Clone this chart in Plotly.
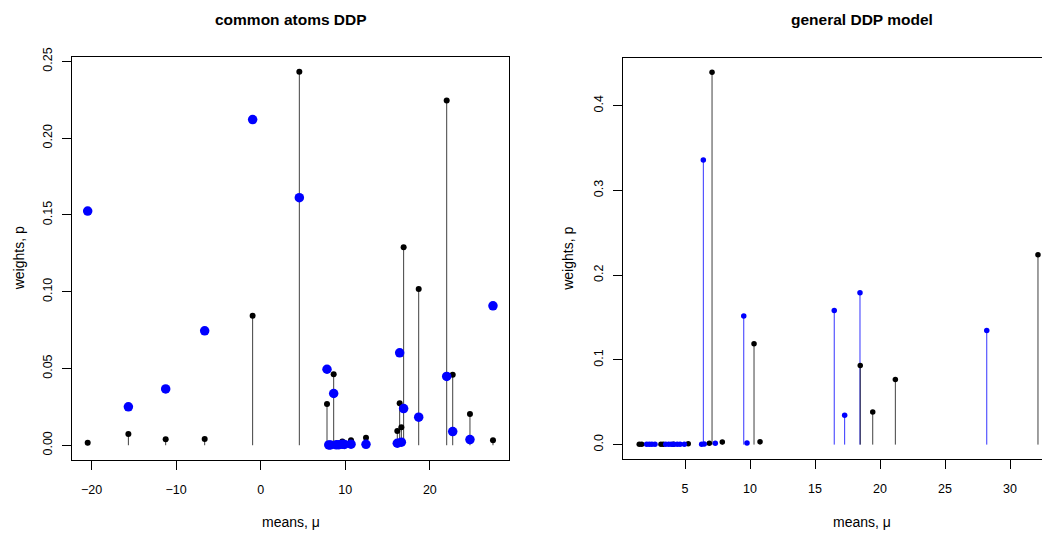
import plotly.graph_objects as go

# ---------------- data ----------------
# Left panel: common atoms DDP (shared atoms, two groups of weights)
left_atoms = [-20.45, -15.64, -11.23, -6.62, -0.95, 4.57, 7.84, 8.05, 8.25, 8.63, 8.95,
              9.25, 9.65, 9.90, 10.68, 12.45, 16.15, 16.43, 16.63, 16.90, 18.68, 21.99,
              22.70, 24.74, 27.46]
left_w_black = [0.0017, 0.0074, 0.0039, 0.0041, 0.0843, 0.2432, 0.0269, 0.0002, 0.0003, 0.0463, 0.0005,
                0.0008, 0.0025, 0.0003, 0.0033, 0.0048, 0.0093, 0.0274, 0.0117, 0.1289, 0.1017, 0.2245,
                0.0459, 0.0204, 0.0033]
left_w_blue = [0.1525, 0.0250, 0.0367, 0.0745, 0.2121, 0.1612, 0.0495, 0.0002, 0.0002, 0.0337, 0.0003,
               0.0004, 0.0006, 0.0005, 0.0007, 0.0006, 0.0013, 0.0602, 0.0020, 0.0239, 0.0183, 0.0448,
               0.0089, 0.0037, 0.0908]

# Right panel: general DDP model (separate atoms per group)
right_atoms_black = [1.48, 1.67, 3.15, 3.33, 4.10, 5.25, 6.87, 7.08, 7.87, 10.31, 10.77,
                     18.48, 19.44, 21.18, 32.15]
right_w_black = [0.0005, 0.0005, 0.0005, 0.0005, 0.0005, 0.0010, 0.0015, 0.4392, 0.0030, 0.1189, 0.0035,
                 0.0933, 0.0386, 0.0767, 0.2240]
right_atoms_blue = [2.05, 2.25, 2.45, 2.69, 3.52, 3.75, 3.95, 4.15, 4.40, 4.62, 4.95,
                    6.28, 6.41, 6.48, 7.33, 9.52, 9.77, 16.48, 17.28, 18.46, 28.21]
right_w_blue = [0.0003, 0.0003, 0.0003, 0.0003, 0.0003, 0.0003, 0.0003, 0.0003, 0.0003, 0.0003, 0.0005,
                0.0005, 0.3358, 0.0008, 0.0015, 0.1516, 0.0020, 0.1582, 0.0347, 0.1791, 0.1346]

left_xticks = [-20, -10, 0, 10, 20]
left_yticks = [0.0, 0.05, 0.10, 0.15, 0.20, 0.25]
left_ytext = ["0.00", "0.05", "0.10", "0.15", "0.20", "0.25"]
right_xticks = [5, 10, 15, 20, 25, 30]
right_yticks = [0.0, 0.1, 0.2, 0.3, 0.4]
right_ytext = ["0.0", "0.1", "0.2", "0.3", "0.4"]

titles = ["common atoms DDP", "general DDP model"]
xlabel = "means, \u03bc"
ylabel = "weights, p"

BLUE = "#0000ff"
FONT = "Liberation Sans, Arial, sans-serif"
W, H = 1042, 533
HEFF = 522.6  # effective rendered paper height (measured)


def py(pix):
    """pixel row from top -> paper y"""
    return (H - pix) / HEFF


def stems(xs, ys):
    sx, sy = [], []
    for x, y in zip(xs, ys):
        sx += [x, x, None]
        sy += [0, y, None]
    return sx, sy


fig = go.Figure()

# left panel
sx, sy = stems(left_atoms, left_w_black)
fig.add_trace(go.Scatter(x=sx, y=sy, mode="lines", line=dict(color="rgba(0,0,0,0.75)", width=1),
                         xaxis="x", yaxis="y", hoverinfo="skip"))
fig.add_trace(go.Scatter(x=left_atoms, y=left_w_black, mode="markers",
                         marker=dict(color="black", size=6), xaxis="x", yaxis="y"))
fig.add_trace(go.Scatter(x=left_atoms, y=left_w_blue, mode="markers",
                         marker=dict(color=BLUE, size=9.5), xaxis="x", yaxis="y"))

# right panel
sx, sy = stems(right_atoms_blue, right_w_blue)
fig.add_trace(go.Scatter(x=sx, y=sy, mode="lines", line=dict(color="rgba(0,0,255,0.8)", width=1),
                         xaxis="x2", yaxis="y2", hoverinfo="skip"))
sx, sy = stems(right_atoms_black, right_w_black)
fig.add_trace(go.Scatter(x=sx, y=sy, mode="lines", line=dict(color="rgba(0,0,0,0.75)", width=1),
                         xaxis="x2", yaxis="y2", hoverinfo="skip"))
fig.add_trace(go.Scatter(x=right_atoms_black, y=right_w_black, mode="markers",
                         marker=dict(color="black", size=5.5), xaxis="x2", yaxis="y2"))
fig.add_trace(go.Scatter(x=right_atoms_blue, y=right_w_blue, mode="markers",
                         marker=dict(color=BLUE, size=5.5), xaxis="x2", yaxis="y2"))

tickfont = dict(family=FONT, size=12.5, color="black")
common_axis = dict(showgrid=False, zeroline=False, showline=True, linecolor="black", linewidth=1,
                   ticks="outside", ticklen=9, tickcolor="black", tickwidth=1, tickfont=tickfont)

fig.update_layout(
    width=W, height=H, autosize=False,
    margin=dict(l=0, r=0, t=0, b=0),
    paper_bgcolor="white", plot_bgcolor="white",
    showlegend=False,
    xaxis=dict(common_axis, domain=[71.7 / W, 509.3 / W], range=[-22.34, 29.39],
               tickvals=left_xticks, mirror=True, anchor="y", ticklabelstandoff=9),
    yaxis=dict(common_axis, domain=[py(460), py(57.3)], range=[-0.00958, 0.2529],
               tickvals=left_yticks, ticktext=left_ytext, tickangle=-90, mirror=True, anchor="x",
               ticklabelstandoff=5),
    xaxis2=dict(common_axis, domain=[623.3 / W, 1.0], range=[0.254, 32.46],
                tickvals=right_xticks, mirror=True, anchor="y2", ticklabelstandoff=9),
    yaxis2=dict(common_axis, domain=[py(459), py(58.3)], range=[-0.0169, 0.4562],
                tickvals=right_yticks, ticktext=right_ytext, tickangle=-90, mirror=False, anchor="x2",
                ticklabelstandoff=5),
)

ann = []
for title, cx in zip(titles, [290.5, 862]):
    ann.append(dict(text="<b>%s</b>" % title, x=cx / W, y=py(20), xref="paper", yref="paper",
                    xanchor="center", yanchor="middle", showarrow=False,
                    font=dict(family=FONT, size=15.5, color="black")))
    ann.append(dict(text=xlabel, x=cx / W, y=py(522), xref="paper", yref="paper",
                    xanchor="center", yanchor="middle", showarrow=False,
                    font=dict(family=FONT, size=14, color="black")))
for cx in [18.5, 568]:
    ann.append(dict(text=ylabel, x=cx / W, y=py(259), xref="paper", yref="paper",
                    xanchor="center", yanchor="middle", showarrow=False, textangle=-90,
                    font=dict(family=FONT, size=14, color="black")))
fig.update_layout(annotations=ann)

fig.write_html("out.html")
